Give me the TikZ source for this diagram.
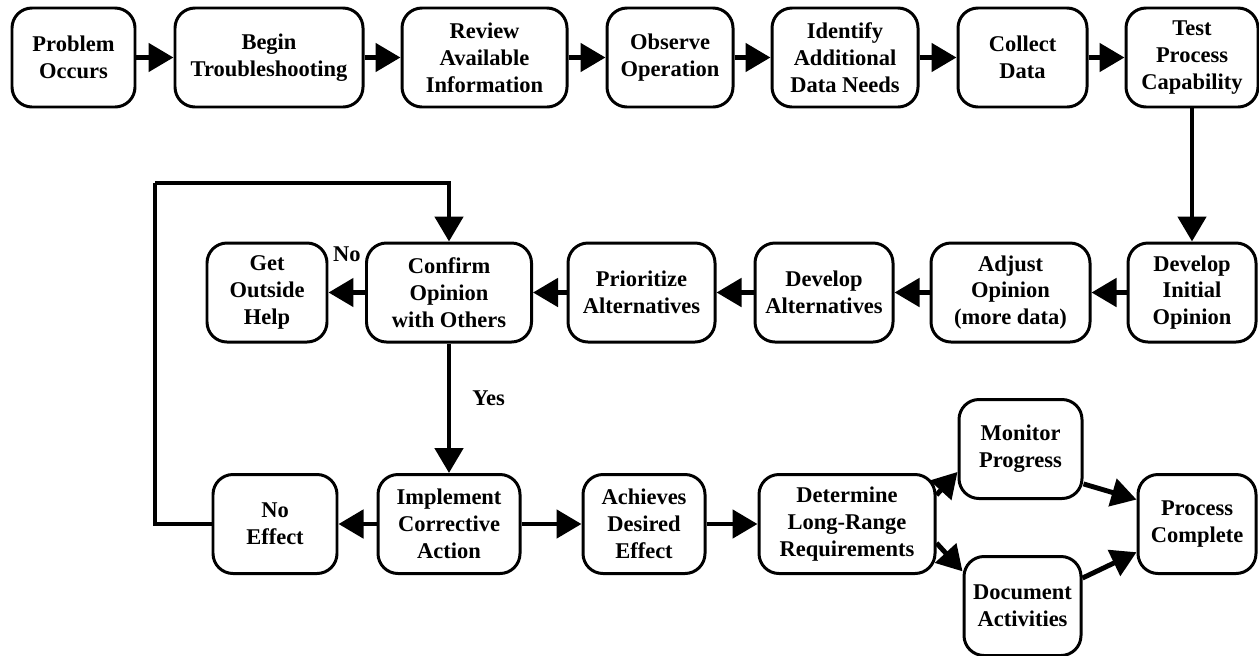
\documentclass[tikz,border=0pt]{standalone}
\usepackage{fontspec}
\setmainfont{Liberation Serif}
\usepackage{tikz}
\usetikzlibrary{arrows.meta}

\begin{document}
\begin{tikzpicture}[
    box/.style={draw, line width=1.7pt, rounded corners=0.4cm, minimum height=1.98cm,
        inner sep=1pt, align=center, font=\bfseries\fontsize{12.8}{15.3}\selectfont},
    flow/.style={line width=2.8pt, -{Triangle[length=0.5cm,width=0.56cm]}},
    lbl/.style={font=\bfseries\fontsize{12.8}{15.3}\selectfont}]
    \useasboundingbox (0,0) rectangle (25.18,-13.1);
    % first row
    \node[box, minimum width=2.46cm] (occurs) at (1.47,-1.15) {Problem\\Occurs};
    \node[box, minimum width=3.76cm] (begin) at (5.38,-1.15) {Begin\\Troubleshooting};
    \node[box, minimum width=3.30cm] (review) at (9.69,-1.15) {Review\\Available\\Information};
    \node[box, minimum width=2.52cm] (observe) at (13.40,-1.15) {Observe\\Operation};
    \node[box, minimum width=2.92cm] (needs) at (16.90,-1.15) {Identify\\Additional\\Data Needs};
    \node[box, minimum width=2.58cm] (collect) at (20.45,-1.15) {Collect\\Data};
    \node[box, minimum width=2.64cm] (capab) at (23.84,-1.15) {Test\\Process\\Capability};
    % second row
    \node[box, minimum width=2.56cm] (initial) at (23.84,-5.85) {Develop\\Initial\\Opinion};
    \node[box, minimum width=3.18cm] (adjust) at (20.21,-5.85) {Adjust\\Opinion\\(more data)};
    \node[box, minimum width=2.76cm] (devalt) at (16.48,-5.85) {Develop\\Alternatives};
    \node[box, minimum width=2.94cm] (prior) at (12.83,-5.85) {Prioritize\\Alternatives};
    \node[box, minimum width=3.30cm] (confirm) at (8.98,-5.85) {Confirm\\Opinion\\with Others};
    \node[box, minimum width=2.40cm] (help) at (5.34,-5.85) {Get\\Outside\\Help};
    % third row
    \node[box, minimum width=2.84cm] (implement) at (8.98,-10.48) {Implement\\Corrective\\Action};
    \node[box, minimum width=2.48cm] (noeffect) at (5.50,-10.48) {No\\Effect};
    \node[box, minimum width=2.44cm] (achieves) at (12.88,-10.48) {Achieves\\Desired\\Effect};
    \node[box, minimum width=3.52cm] (longrange) at (16.94,-10.48) {Determine\\Long-Range\\Requirements};
    \node[box, minimum width=2.46cm] (monitor) at (20.41,-8.98) {Monitor\\Progress};
    \node[box, minimum width=2.34cm] (document) at (20.45,-12.12) {Document\\Activities};
    \node[box, minimum width=2.36cm] (complete) at (23.94,-10.48) {Process\\Complete};
    \coordinate (loop) at (3.10,-3.66);

    \draw[flow] (occurs) -- (begin);
    \draw[flow] (begin) -- (review);
    \draw[flow] (review) -- (observe);
    \draw[flow] (observe) -- (needs);
    \draw[flow] (needs) -- (collect);
    \draw[flow] (collect) -- (capab);
    \draw[flow] (capab) -- (initial);
    \draw[flow] (initial) -- (adjust);
    \draw[flow] (adjust) -- (devalt);
    \draw[flow] (devalt) -- (prior);
    \draw[flow] (prior) -- (confirm);
    \draw[flow] (confirm) -- node[lbl, above=0.45cm] {No} (help);
    \draw[flow] (confirm) -- node[lbl, right=0.3cm, pos=0.42] {Yes} (implement);
    \draw[flow] (implement) -- (noeffect);
    \draw[flow] (implement) -- (achieves);
    \draw[flow] (achieves) -- (longrange);
    % back to confirm
    \draw[line width=2.8pt] (noeffect.west) -| (loop);
    \draw[flow] (loop) -| (confirm.north);
    % split and join
    \draw[flow] (longrange.18) -- (monitor.200);
    \draw[flow] (longrange.348) -- (document.150);
    \draw[flow] (monitor.331) -- (complete.158);
    \draw[flow] (document.25) -- (complete.205);
\end{tikzpicture}
\end{document}
